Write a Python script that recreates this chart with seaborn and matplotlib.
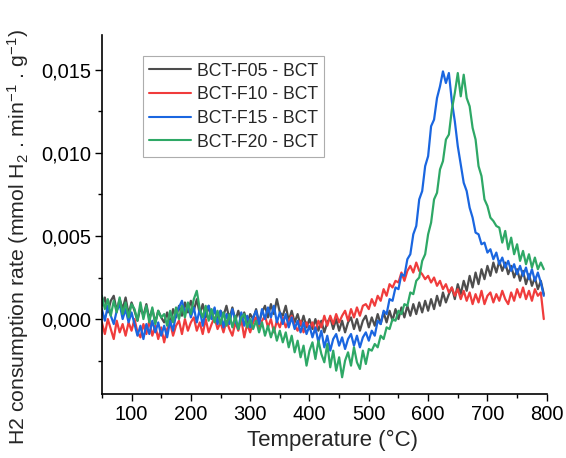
import numpy as np
import pandas as pd
import matplotlib.pyplot as plt
import matplotlib.ticker as mticker
import seaborn as sns

sns.set_theme(style="ticks")
plt.rcParams['font.family'] = ['Liberation Sans', 'DejaVu Sans']
plt.rcParams['mathtext.fontset'] = 'custom'
plt.rcParams['mathtext.rm'] = 'Liberation Sans'
plt.rcParams['mathtext.it'] = 'Liberation Sans'

# temperature grid (°C), 5 degree steps
temperature = np.arange(50, 800, 5)

# H2 consumption rates, in units of 1e-4 mmol H2 / min / g
rate_f05 = [8, 13, 4, 11, 14, 5, 12, 6, 13, 3, 10,
            5, -1, 7, 2, 9, 0, 6, -2, 5, 1,
            -2, 4, -3, 6, 1, 8, 2, 10, 4, 11,
            5, 12, 3, 9, 1, 8, 0, 6, -1, 5,
            2, 8, 0, 7, -1, 5, -2, 4, -3, 3,
            0, 6, -2, 4, 8, 1, 9, 3, 12, 4,
            2, 8, -1, 5, -2, 3, -4, 2, -5, 0,
            -6, 0, -7, -1, -8, -2, 1, -6, 0, -7,
            -1, -8, -2, 1, -6, 0, -7, -1, 2, -5,
            1, -4, 3, -3, 4, -2, 5, -1, 6, 0,
            7, 1, 8, 2, 9, 3, 10, 4, 11, 5,
            12, 6, 14, 8, 16, 10, 15, 19, 12, 21,
            15, 23, 17, 26, 19, 28, 21, 30, 24, 32,
            26, 34, 28, 35, 29, 34, 27, 32, 25, 30,
            23, 29, 21, 27, 20, 25, 18, 23, 15]

rate_f10 = [-2, -9, 0, -6, -12, -1, -8, -3, -10, -2, -7,
            0, -8, -11, -3, -9, -1, -10, -4, -12, -5,
            -14, -6, -2, -10, -4, -1, -9, 0, -7, -2,
            1, -7, -2, -9, 0, -8, -3, 1, -6, -2,
            -8, -1, -6, -10, -2, -7, 0, -11, -3, -8,
            -2, 1, -6, -1, 2, -5, 0, -8, -1, -5,
            1, -5, -1, 2, -4, -7, -1, -8, -2, -6,
            -2, -8, -1, -5, 2, -4, 2, -3, 3, -2,
            2, 5, -1, 6, 1, 7, 2, 8, 9, 6,
            12, 8, 14, 11, 18, 14, 21, 19, 23, 22,
            28, 23, 29, 32, 28, 34, 29, 27, 24, 26,
            22, 25, 20, 23, 18, 21, 16, 19, 14, 18,
            12, 17, 11, 16, 9, 15, 10, 17, 9, 14,
            16, 10, 15, 11, 17, 12, 9, 16, 11, 18,
            13, 19, 12, 17, 11, 18, 14, 16, 0]

rate_f15 = [6, -1, 8, 2, -3, 5, 9, 0, 6, -2, 4,
            -3, -10, -4, -12, -3, -9, -1, -8, -2, -10,
            -4, -11, -1, -7, 3, 7, 11, 3, 9, 1,
            7, -2, 6, -4, 5, 8, 0, 7, -3, 5,
            -5, 3, -3, 6, -1, -6, 4, -4, 2, -5,
            1, 5, -3, 6, 0, 7, 1, 8, -2, 4,
            -3, 3, -5, 1, -6, -1, -8, -2, -9, -4,
            -11, -5, -14, -7, -17, -10, -19, -12, -9, -16,
            -11, -18, -12, -9, -16, -10, -17, -11, -8, -13,
            -7, -10, -1, -3, 5, 3, 12, 11, 19, 18,
            27, 26, 36, 39, 51, 56, 72, 77, 92, 98,
            116, 120, 133, 140, 149, 142, 148, 131, 119, 104,
            93, 82, 77, 67, 61, 52, 51, 45, 46, 40,
            42, 36, 40, 33, 37, 31, 35, 29, 33, 27,
            32, 26, 31, 24, 30, 23, 28, 22, 14]

rate_f20 = [14, 6, 12, 2, 11, 4, 13, 3, 10, 1, 9,
            6, -1, 10, 0, 8, -2, 7, -3, 5, 1,
            3, -4, 5, -2, 7, 0, 8, 1, 10, 3,
            12, 17, 6, 1, 8, -1, 6, -2, 5, -3,
            4, -4, 3, -5, 2, -6, 1, 3, -5, 0,
            -6, -1, -8, -2, -10, -4, -11, -5, -13, -7,
            -14, -8, -17, -10, -20, -13, -23, -16, -28, -19,
            -14, -24, -13, -21, -26, -15, -29, -19, -31, -23,
            -35, -25, -20, -28, -17, -26, -30, -19, -27, -18,
            -19, -15, -17, -10, -12, -5, -6, 0, -1, 5,
            3, 9, 8, 16, 15, 23, 25, 35, 39, 51,
            58, 72, 76, 90, 95, 108, 111, 126, 136, 148,
            134, 147, 133, 128, 115, 108, 92, 86, 72, 68,
            61, 59, 56, 55, 46, 53, 42, 49, 39, 45,
            35, 41, 33, 39, 31, 37, 30, 34, 30]

labels = ["BCT-F05 - BCT", "BCT-F10 - BCT", "BCT-F15 - BCT", "BCT-F20 - BCT"]
colors = ["#4d4d4d", "#f03c3c", "#1a66e0", "#2ea866"]

frames = []
for lab, vals in zip(labels, [rate_f05, rate_f10, rate_f15, rate_f20]):
    frames.append(pd.DataFrame({"T": temperature,
                                "rate": np.array(vals) * 1e-4,
                                "sample": lab}))
df = pd.concat(frames, ignore_index=True)

fig = plt.figure(figsize=(5.66, 4.58), dpi=100)
ax = fig.add_axes([0.180, 0.140, 0.786, 0.784])

sns.lineplot(data=df, x="T", y="rate", hue="sample", palette=colors,
             linewidth=1.6, ax=ax, sort=False)

ax.set_xlim(50, 800)
ax.set_ylim(-0.0045, 0.0171)

ax.xaxis.set_major_locator(mticker.MultipleLocator(100))
ax.xaxis.set_minor_locator(mticker.MultipleLocator(50))
ax.yaxis.set_major_locator(mticker.MultipleLocator(0.005))
ax.yaxis.set_minor_locator(mticker.MultipleLocator(0.0025))
ax.yaxis.set_major_formatter(
    mticker.FuncFormatter(lambda v, p: f"{v:.3f}".replace(".", ",").replace("-0,000", "0,000")))

ax.tick_params(which="major", direction="out", length=5, width=1, labelsize=14.5,
               colors="black", pad=3)
ax.tick_params(which="minor", direction="out", length=3, width=1, colors="black")
for s in ["left", "bottom"]:
    ax.spines[s].set_linewidth(1.2)
    ax.spines[s].set_color("black")
sns.despine(ax=ax)

ax.set_xlabel("Temperature (°C)", fontsize=16)
ax.set_ylabel(r"H2 consumption rate (mmol H$_2$ . min$^{-1}$ . g$^{-1}$)", fontsize=15.3)
ax.xaxis.set_label_coords(0.519, -0.131)
ax.yaxis.set_label_coords(-0.189, 0.437)
ax.xaxis.label.set_va("center")
ax.yaxis.label.set_va("center")

leg = ax.legend(loc="upper left", bbox_to_anchor=(0.092, 0.94), fontsize=12.7,
                frameon=True, fancybox=False, handlelength=2.4, labelspacing=0.38,
                borderpad=0.35, handletextpad=0.3, borderaxespad=0)
leg.get_frame().set_edgecolor("#999999")
leg.get_frame().set_linewidth(0.8)
for line in leg.get_lines():
    line.set_linewidth(1.5)

plt.savefig("out.png", dpi=100)
